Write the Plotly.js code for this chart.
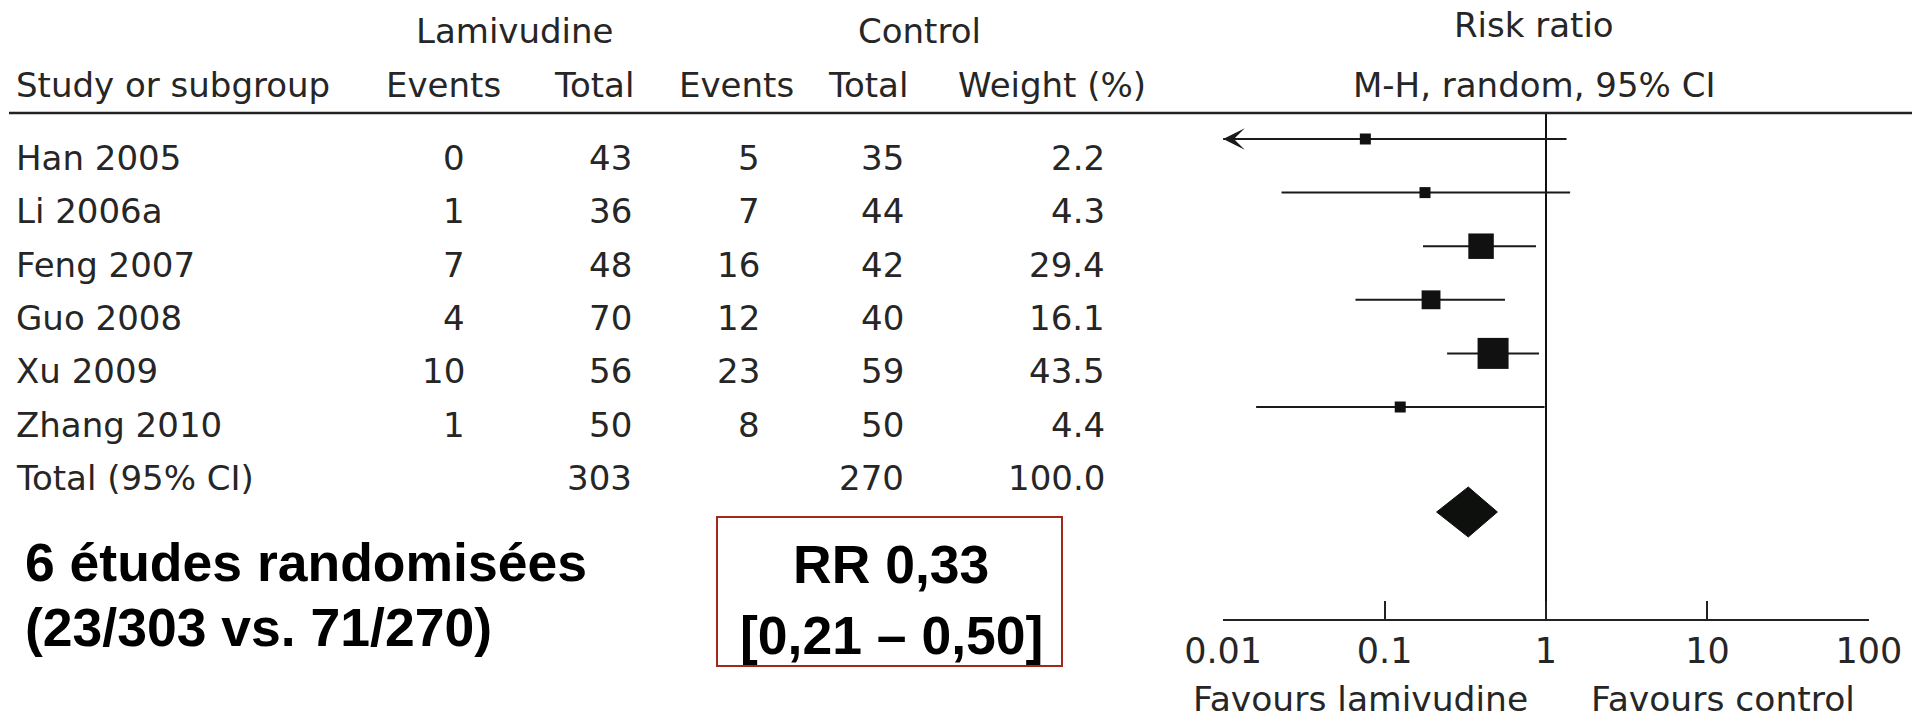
<!DOCTYPE html>
<html><head><meta charset="utf-8">
<script src="https://cdn.plot.ly/plotly-3.0.1.min.js"></script>
<style>html,body{margin:0;padding:0;background:#fff;}#chart{width:1912px;height:720px;}</style>
</head><body><div id="chart"></div>
<script>
// ---- data ----
const studies    = ['Han 2005', 'Li 2006a', 'Feng 2007', 'Guo 2008', 'Xu 2009', 'Zhang 2010'];
const lamEvents  = [0, 1, 7, 4, 10, 1];
const lamTotal   = [43, 36, 48, 70, 56, 50];
const ctrlEvents = [5, 7, 16, 12, 23, 8];
const ctrlTotal  = [35, 44, 42, 40, 59, 50];
const weights    = [2.2, 4.3, 29.4, 16.1, 43.5, 4.4];
const rr         = [0.076, 0.178, 0.396, 0.194, 0.47, 0.125];
const ciLow      = [0.004, 0.023, 0.173, 0.066, 0.244, 0.016];
const ciHigh     = [1.34, 1.41, 0.867, 0.557, 0.905, 0.98];
const totalLabel = 'Total (95% CI)';
const lamTotalSum = 303;
const ctrlTotalSum = 270;
const weightTotal = 100.0;
const pooledRR = 0.33, pooledLow = 0.21, pooledHigh = 0.50;
const tickVals = [0.01, 0.1, 1, 10, 100];
const tickText = ['0.01', '0.1', '1', '10', '100'];
const summaryLeft = ['6 études randomisées', '(23/303 vs. 71/270)'];
const summaryBox = ['RR 0,33', '[0,21 – 0,50]'];

// ---- layout helpers ----
const W = 1912, H = 720;
const px = v => v / W;
const tableRowY = i => 158 + 53.33 * i;
const forestRowY = i => 139 + 53.6 * i;
const pooledY = 512;
const headerLineY = 113;
const axisY = 620;
const xMin = 0.01, xMax = 100;
const txt = {family: 'DejaVu Sans, Verdana, sans-serif', size: 34, color: '#262626'};
const bold = {family: 'Liberation Sans, Arial, sans-serif', size: 53.5, color: '#000'};

const ann = [];
function A(text, x, y, anchor, font, yanchor) {
  ann.push({text: text, x: px(x), xref: 'paper', y: y, yref: 'y', xanchor: anchor, yanchor: yanchor || 'middle',
            showarrow: false, font: font || txt, borderpad: 0});
}
// headers
A('Lamivudine', 515, 31, 'center');
A('Control', 919, 31, 'center');
A('Risk ratio', 1534, 25, 'center');
A('Study or subgroup', 15, 85, 'left');
A('Events', 443, 85, 'center');
A('Total', 594, 85, 'center');
A('Events', 736, 85, 'center');
A('Total', 868, 85, 'center');
A('Weight (%)', 1052, 85, 'center');
A('M-H, random, 95% CI', 1534, 85, 'center');
// rows
studies.forEach((s, i) => {
  const y = tableRowY(i);
  A(s, 15, y, 'left');
  A(String(lamEvents[i]), 466, y, 'right');
  A(String(lamTotal[i]), 633, y, 'right');
  A(String(ctrlEvents[i]), 761, y, 'right');
  A(String(ctrlTotal[i]), 905, y, 'right');
  A(weights[i].toFixed(1), 1106, y, 'right');
});
const ty = tableRowY(studies.length);
A(totalLabel, 15, ty, 'left');
A(String(lamTotalSum), 633, ty, 'right');
A(String(ctrlTotalSum), 905, ty, 'right');
A(weightTotal.toFixed(1), 1106, ty, 'right');
// favours
const fav = Object.assign({}, txt, {size: 34.5});
A('Favours lamivudine', 1360, 719.5, 'center', fav, 'bottom');
A('Favours control', 1723, 719.5, 'center', fav, 'bottom');
// summary texts
A('<b>' + summaryLeft[0] + '</b>', 24, 562, 'left', bold);
A('<b>' + summaryLeft[1] + '</b>', 24, 627, 'left', bold);
A('<b>' + summaryBox[0] + '</b>', 891, 564, 'center', bold);
A('<b>' + summaryBox[1] + '</b>', 891, 635, 'center', bold);

// arrows for CIs beyond the axis
studies.forEach((s, i) => {
  if (ciLow[i] < xMin) {
    ann.push({x: Math.log10(xMin), xref: 'x', y: forestRowY(i), yref: 'y', ax: 34, ay: 0,
              showarrow: true, arrowhead: 3, arrowsize: 1.8, arrowwidth: 2, arrowcolor: '#1a1a1a', text: ''});
  }
});

// ---- traces ----
const ciX = [], ciY = [];
studies.forEach((s, i) => {
  ciX.push(Math.max(ciLow[i], xMin), Math.min(ciHigh[i], xMax), null);
  ciY.push(forestRowY(i), forestRowY(i), null);
});
const traces = [
  {x: [1, 1], y: [headerLineY, axisY], mode: 'lines', line: {color: '#111', width: 2}, hoverinfo: 'skip'},
  {x: ciX, y: ciY, mode: 'lines', line: {color: '#1a1a1a', width: 2}, hoverinfo: 'skip'},
  {x: rr, y: studies.map((s, i) => forestRowY(i)), mode: 'markers',
   marker: {symbol: 'square', color: '#111', opacity: 1,
            size: weights.map(w => Math.max(11, 4.7 * Math.sqrt(w))), line: {width: 0}}},
  {x: [pooledLow, pooledRR, pooledHigh, pooledRR, pooledLow],
   y: [pooledY, pooledY - 25, pooledY, pooledY + 25, pooledY],
   mode: 'lines', fill: 'toself', fillcolor: '#0d100d', line: {color: '#0d100d', width: 1}}
];

const layout = {
  width: W, height: H, margin: {l: 0, r: 0, t: 0, b: 0, pad: 0},
  paper_bgcolor: '#fff', plot_bgcolor: 'rgba(0,0,0,0)', showlegend: false,
  xaxis: {type: 'log', range: [Math.log10(xMin) - 0.001, Math.log10(xMax) + 0.001],
          domain: [px(1223), px(1869)], anchor: 'free', position: (H - axisY) / H,
          showline: true, linecolor: '#222', linewidth: 2, ticks: 'inside', ticklen: 18, tickwidth: 2,
          tickcolor: '#222', tickvals: tickVals, ticktext: tickText,
          tickfont: {family: 'DejaVu Sans, Verdana, sans-serif', size: 35, color: '#262626'},
          showgrid: false, zeroline: false, fixedrange: true},
  yaxis: {range: [H, 0], domain: [0, 1], visible: false, showgrid: false, zeroline: false, fixedrange: true},
  shapes: [
    {type: 'line', xref: 'paper', yref: 'y', x0: px(9), x1: 1, y0: headerLineY, y1: headerLineY,
     line: {color: '#222', width: 2.5}},
    {type: 'rect', xref: 'paper', yref: 'y', x0: px(717), x1: px(1062), y0: 517, y1: 666,
     line: {color: '#a3271a', width: 2}}
  ],
  annotations: ann
};
Plotly.newPlot('chart', traces, layout, {staticPlot: true, displayModeBar: false});
</script>
</body></html>
